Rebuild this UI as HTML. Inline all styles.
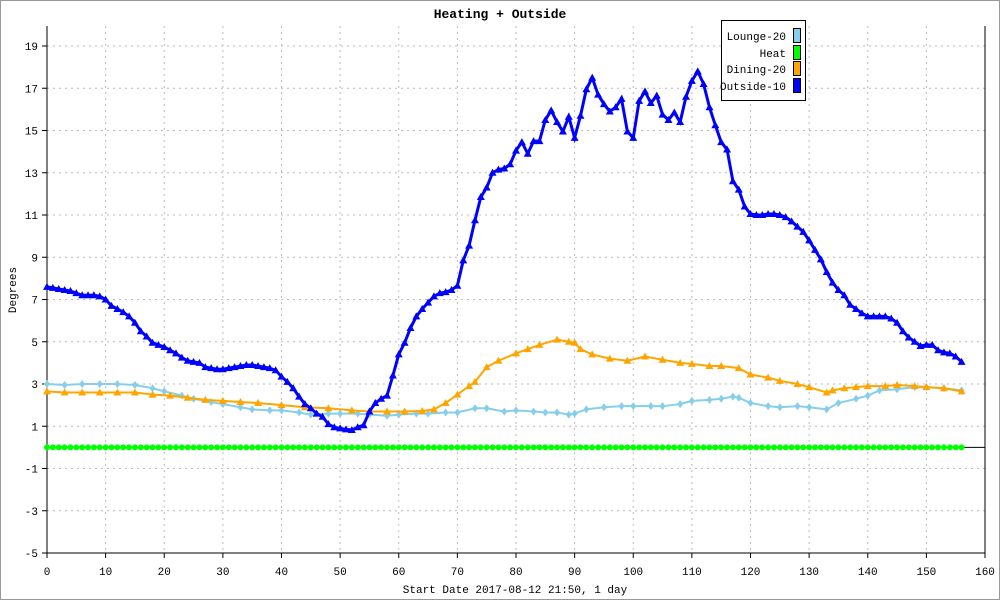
<!DOCTYPE html>
<html><head><meta charset="utf-8"><style>
html,body{margin:0;padding:0;background:#fff}
svg{display:block;font-family:"Liberation Mono","DejaVu Sans Mono",monospace}
</style></head><body>
<svg id="chart" width="1000" height="600" viewBox="0 0 1000 600">
<rect x="0.5" y="0.5" width="999" height="599" fill="#fff" stroke="#999"/>
<text x="500" y="18" text-anchor="middle" font-size="13" font-weight="bold">Heating + Outside</text>
<text transform="translate(16,290) rotate(-90)" text-anchor="middle" font-size="11">Degrees</text>
<text x="515" y="593" text-anchor="middle" font-size="11">Start Date 2017-08-12 21:50, 1 day</text>
<g id="grid"></g>
<g id="axes"></g>
<g id="series"></g>
<g>
<rect x="721.5" y="20.5" width="84" height="80" fill="#fff" stroke="#000"/>
<g><text x="786" y="40" text-anchor="end" font-size="11">Lounge-20</text><rect x="793.5" y="28.5" width="7" height="14" fill="#87ceeb" stroke="#000"/></g>
<g><text x="786" y="57" text-anchor="end" font-size="11">Heat</text><rect x="793.5" y="45.5" width="7" height="14" fill="#00ff00" stroke="#000"/></g>
<g><text x="786" y="73" text-anchor="end" font-size="11">Dining-20</text><rect x="793.5" y="61.5" width="7" height="14" fill="#ffa500" stroke="#000"/></g>
<g><text x="786" y="90" text-anchor="end" font-size="11">Outside-10</text><rect x="793.5" y="78.5" width="7" height="14" fill="#0000ff" stroke="#000"/></g>
</g>
</svg>
<script>
const xTicks=[0,10,20,30,40,50,60,70,80,90,100,110,120,130,140,150,160];
const yTicks=[-5,-3,-1,1,3,5,7,9,11,13,15,17,19];
const outsideX=[];for(let i=0;i<=156;i++)outsideX.push(i);
const outsideVals=[7.6,7.55,7.5,7.45,7.4,7.3,7.2,7.2,7.2,7.15,7.0,6.7,6.55,6.4,6.2,5.9,5.5,5.25,4.95,4.85,4.75,4.6,4.45,4.25,4.1,4.05,4.0,3.8,3.75,3.7,3.7,3.75,3.8,3.85,3.9,3.9,3.85,3.8,3.75,3.65,3.35,3.1,2.8,2.4,2.05,1.85,1.6,1.45,1.1,0.95,0.9,0.85,0.82,0.95,1.05,1.7,2.1,2.3,2.45,3.4,4.4,4.95,5.65,6.2,6.55,6.85,7.15,7.3,7.35,7.45,7.65,8.85,9.55,10.75,11.85,12.3,13.0,13.15,13.2,13.4,14.05,14.45,13.9,14.5,14.5,15.5,15.95,15.4,14.95,15.65,14.65,15.7,16.95,17.5,16.7,16.25,15.9,16.1,16.5,14.95,14.65,16.4,16.85,16.3,16.65,15.75,15.5,15.85,15.4,16.6,17.35,17.8,17.2,16.1,15.25,14.45,14.1,12.6,12.2,11.4,11.05,11.0,11.0,11.05,11.05,11.0,10.9,10.7,10.45,10.2,9.8,9.35,8.9,8.3,7.8,7.45,7.2,6.75,6.55,6.35,6.2,6.2,6.2,6.2,6.1,5.9,5.5,5.2,5.0,4.8,4.85,4.85,4.6,4.5,4.45,4.3,4.05];
const diningX=[0,3,6,9,12,15,18,21,24,27,30,33,36,40,44,48,52,55,58,61,64,66,68,70,72,73,75,77,80,82,84,87,89,90,91,93,96,99,102,105,108,110,113,115,118,120,123,125,128,130,133,134,136,138,140,143,145,148,150,153,156];
const diningVals=[2.65,2.6,2.6,2.6,2.6,2.6,2.5,2.45,2.35,2.25,2.2,2.15,2.1,2.0,1.9,1.85,1.75,1.7,1.7,1.7,1.72,1.8,2.1,2.5,2.9,3.1,3.8,4.1,4.45,4.65,4.85,5.1,5.0,4.95,4.65,4.4,4.2,4.1,4.3,4.15,4.0,3.95,3.85,3.85,3.75,3.45,3.3,3.15,3.0,2.85,2.6,2.7,2.8,2.85,2.9,2.9,2.95,2.9,2.85,2.8,2.65];
const loungeX=[0,3,6,9,12,15,18,20,23,25,28,30,33,35,38,40,43,45,48,50,53,55,58,60,63,65,68,70,73,75,78,80,83,85,87,89,90,92,95,98,100,103,105,108,110,113,115,117,118,120,123,125,128,130,133,135,138,140,142,145,148,150,153,156];
const loungeVals=[3.0,2.95,3.0,3.0,3.0,2.95,2.8,2.65,2.45,2.3,2.15,2.05,1.9,1.8,1.75,1.75,1.65,1.55,1.6,1.6,1.6,1.55,1.5,1.55,1.6,1.6,1.65,1.65,1.85,1.85,1.7,1.75,1.7,1.65,1.65,1.55,1.6,1.8,1.9,1.95,1.95,1.95,1.95,2.05,2.2,2.25,2.3,2.4,2.35,2.1,1.95,1.9,1.95,1.9,1.8,2.1,2.3,2.45,2.7,2.75,2.85,2.85,2.8,2.7];
const heatVals=[];for(let i=0;i<=156;i++)heatVals.push(0);

const X0=47,X1=985,Y0=46,YPU=21.125;
const sx=v=>X0+v*(X1-X0)/160;
const sy=v=>Y0+(19-v)*YPU;
const NS='http://www.w3.org/2000/svg';
function mk(tag,attrs,parent){const e=document.createElementNS(NS,tag);for(const k in attrs)e.setAttribute(k,attrs[k]);parent.appendChild(e);return e;}
const grid=document.getElementById('grid'),axes=document.getElementById('axes'),series=document.getElementById('series');
xTicks.forEach(t=>{
 if(t>0&&t<160){const l=mk('line',{x1:sx(t),x2:sx(t),y1:26,y2:553,stroke:'#bbb','stroke-dasharray':'2,4'},grid);
 
 }
 const tk=mk('line',{x1:sx(t),x2:sx(t),y1:553,y2:558,stroke:'#000'},axes);
 
 
 const tx=mk('text',{x:sx(t),y:575,'text-anchor':'middle','font-size':'11'},axes);tx.textContent=t;
 
 
});
yTicks.forEach(t=>{
 if(t>-5){const l=mk('line',{x1:X0,x2:X1,y1:sy(t),y2:sy(t),stroke:'#bbb','stroke-dasharray':'2,4'},grid);
 
 }
 const tk=mk('line',{x1:42,x2:47,y1:sy(t),y2:sy(t),stroke:'#000'},axes);
 
 
 const tx=mk('text',{x:38,y:sy(t)+4,'text-anchor':'end','font-size':'11'},axes);tx.textContent=t;
 
 
});
[[X0,26,X0,553],[X1,26,X1,553],[X0,553,X1,553],[X0,sy(0),X1,sy(0)]].forEach(a=>{
 const l=mk('line',{x1:a[0],y1:a[1],x2:a[2],y2:a[3],stroke:'#000'},axes);
 
 
});
function draw(xs,vs,color,name,marker,w){
 const g=mk('g',{},series);
 
 
 const pl=mk('polyline',{points:xs.map((x,i)=>sx(x)+','+sy(vs[i])).join(' '),fill:'none',stroke:color,'stroke-width':w},g);
 
 
 xs.forEach((x,i)=>{const cx=sx(x),cy=sy(vs[i]);let m;
  if(marker==='circle')m=mk('circle',{cx:cx,cy:cy,r:3,fill:color},g);
  else if(marker==='tri')m=mk('polygon',{points:`${cx-4},${cy+3} ${cx+4},${cy+3} ${cx},${cy-4}`,fill:color},g);
  else m=mk('polygon',{points:`${cx},${cy-4} ${cx+3},${cy} ${cx},${cy+4} ${cx-3},${cy}`,fill:color},g);
  
  });
}
draw(outsideX,heatVals,'#00ff00','heat','circle',2);
draw(loungeX,loungeVals,'#87ceeb','lounge','diamond',2);
draw(diningX,diningVals,'#ffa500','dining','tri',2);
draw(outsideX,outsideVals,'#0000ff','outside','tri',3);
</script>
</body></html>
